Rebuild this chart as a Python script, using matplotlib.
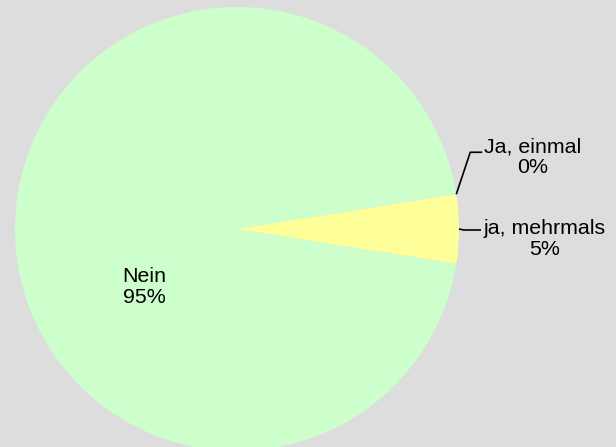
import numpy as np
import matplotlib
matplotlib.use("Agg")
import matplotlib.pyplot as plt

# Daten
labels = ["Nein", "Ja, einmal", "ja, mehrmals"]
counts = [19, 0, 1]
percent_text = ["95%", "0%", "5%"]
colors = ["#CCFFCC", "#FFFF99", "#FFFF99"]

plt.rcParams['font.family'] = ['Liberation Sans', 'DejaVu Sans']

W, H = 616, 447
fig = plt.figure(figsize=(W / 100, H / 100), dpi=100, facecolor="#DDDDDD")
ax = fig.add_axes([0, 0, 1, 1])
ax.set_facecolor("#DDDDDD")

cx, cy, r = 237, H - 229, 222
wedges, _ = ax.pie(counts, colors=colors, startangle=351, counterclock=False,
                   center=(cx, cy), radius=r, wedgeprops=dict(linewidth=0))
ax.set_xlim(0, W)
ax.set_ylim(0, H)
ax.set_aspect('equal')
ax.axis('off')

fs = 15.4

# Nein - Beschriftung im Segment
ax.text(144, H - 287, f"{labels[0]}\n{percent_text[0]}", ha='center', va='center',
        fontsize=fs, linespacing=1.1)

# Ja, einmal - Linie vom Rand nach oben
a = np.deg2rad(wedges[1].theta1)
ex, ey = cx + r * np.cos(a), cy + r * np.sin(a)
ax.plot([ex, ex + 14, ex + 26], [ey, ey + 42, ey + 42], color='black', lw=1.2,
        solid_capstyle='butt')
ax.text(533, H - 157, f"{labels[1]}\n{percent_text[1]}", ha='center', va='center',
        fontsize=fs, linespacing=1.1)

# ja, mehrmals - Linie von der Mitte des Segments
a = np.deg2rad((wedges[2].theta1 + wedges[2].theta2) / 2)
ex, ey = cx + r * np.cos(a), cy + r * np.sin(a)
ax.plot([ex, ex + 5, ex + 22], [ey, ey - 1, ey - 1], color='black', lw=1.2,
        solid_capstyle='butt')
ax.text(545, H - 239, f"{labels[2]}\n{percent_text[2]}", ha='center', va='center',
        fontsize=fs, linespacing=1.1)

fig.savefig("out.png", dpi=100, facecolor=fig.get_facecolor())
